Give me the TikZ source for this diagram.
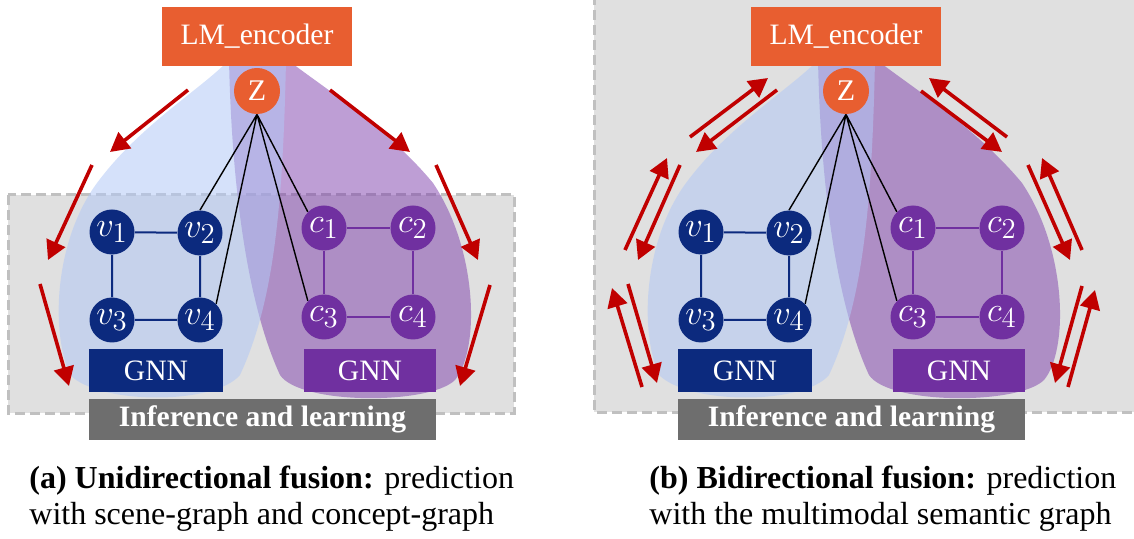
\documentclass[tikz,border=0pt]{standalone}
\usepackage{fontspec}
\setmainfont{Liberation Serif}
\usetikzlibrary{arrows.meta}
\definecolor{lmorange}{RGB}{232,94,48}
\definecolor{vblue}{RGB}{12,42,126}
\definecolor{cpurple}{RGB}{112,48,160}
\definecolor{infogray}{RGB}{110,110,110}
\definecolor{arrred}{RGB}{192,0,0}
\definecolor{panelgray}{RGB}{224,224,224}
\definecolor{dashgray}{RGB}{192,192,192}
\definecolor{blobblue}{RGB}{178,200,245}
\definecolor{blobpurple}{RGB}{125,62,172}
\begin{document}
\begin{tikzpicture}[x=0.5pt,y=-0.5pt,
  gnode/.style={circle, minimum size=22.5pt, inner sep=0pt, text=white,
    font=\fontsize{19}{21}\selectfont},
  vnode/.style={gnode, fill=vblue},
  cnode/.style={gnode, fill=cpurple},
  tbox/.style={rectangle, inner sep=0pt, text=white, font=\fontsize{14.8}{17}\selectfont},
  frame/.style={draw=dashgray, line width=1.5pt, dash pattern=on 5pt off 2.5pt},
  zlink/.style={black, line width=0.7pt},
  vedge/.style={vblue, line width=1pt},
  cedge/.style={cpurple, line width=0.7pt},
  flow/.style={arrred, line width=1.8pt, -{Triangle[length=9.5pt,width=10pt]}},
  caption/.style={anchor=base west, inner sep=0pt, text=black, font=\fontsize{16}{18}\selectfont}
]
\useasboundingbox (0,0) rectangle (1134,539);

% grey panel behind the bidirectional variant
\fill[panelgray] (594,-20) rectangle (1160,412);
\draw[frame] (594,-20) -- (594,412) -- (1160,412);
% grey frame of the unidirectional variant
\filldraw[fill=panelgray, frame] (8,195) rectangle (514,413);

\foreach \p/\dx in {a/0, b/294.5} {
  \begin{scope}[xshift=\dx pt]
    % concept-graph region
    \fill[blobpurple, opacity=0.5]
      (229,60) .. controls (232,200) and (250,310) .. (280,375)
               .. controls (300,405) and (430,405) .. (455,380)
               .. controls (480,350) and (478,250) .. (433,183)
               .. controls (385,125) and (315,82) .. (288,60) -- cycle;
    % scene-graph region, laid over the concept-graph one
    \fill[blobblue, opacity=0.55]
      (286,60) .. controls (283,200) and (275,300) .. (240,375)
               .. controls (215,405) and (100,405) .. (70,375)
               .. controls (50,330) and (55,240) .. (97,183)
               .. controls (140,125) and (200,90) .. (229,60) -- cycle;

    \node[gnode, fill=lmorange, minimum size=23pt, font=\fontsize{15}{17}\selectfont] (\p-z) at (257,91) {Z};

    \node[vnode] (\p-v1) at (112,232) {$v_1$};
    \node[vnode] (\p-v2) at (200,233) {$v_2$};
    \node[vnode] (\p-v3) at (112,320) {$v_3$};
    \node[vnode] (\p-v4) at (200,320) {$v_4$};
    \node[cnode] (\p-c1) at (324,228) {$c_1$};
    \node[cnode] (\p-c2) at (413,228) {$c_2$};
    \node[cnode] (\p-c3) at (324,317) {$c_3$};
    \node[cnode] (\p-c4) at (413,317) {$c_4$};

    \draw[vedge] (\p-v1) -- (\p-v2) (\p-v1) -- (\p-v3)
                 (\p-v2) -- (\p-v4) (\p-v3) -- (\p-v4);
    \draw[cedge] (\p-c1) -- (\p-c2) (\p-c1) -- (\p-c3)
                 (\p-c2) -- (\p-c4) (\p-c3) -- (\p-c4);
    \draw[zlink] (\p-z.south) -- (\p-v2.north)
                 (\p-z.south) -- (\p-v4.north east)
                 (\p-z.south) -- (\p-c1.north west)
                 (\p-z.south) -- (\p-c3.north west);

    \node[tbox, fill=vblue, minimum width=67pt, minimum height=21.5pt] (\p-gv) at (156,370.5) {GNN};
    \node[tbox, fill=cpurple, minimum width=66pt, minimum height=21.5pt] (\p-gc) at (370,370.5) {GNN};
    \node[tbox, fill=infogray, minimum width=173.5pt, minimum height=20.5pt,
          font=\fontsize{14.8}{17}\selectfont\bfseries] (\p-inf) at (262.5,419.5) {Inference and learning};
    \node[tbox, fill=lmorange, minimum width=95pt, minimum height=29.5pt] (\p-lm) at (257,36.5) {LM\_encoder};
  \end{scope}
}

% unidirectional flow: encoder towards the graphs
\coordinate (a1s) at (188,90);  \coordinate (a1e) at (110,152);
\coordinate (a2s) at (92,165);  \coordinate (a2e) at (48,260);
\coordinate (a3s) at (40,284);  \coordinate (a3e) at (69,386);
\coordinate (a4s) at (330,90);  \coordinate (a4e) at (410,152);
\coordinate (a5s) at (436,165); \coordinate (a5e) at (478,260);
\coordinate (a6s) at (490,285); \coordinate (a6e) at (460,386);
\foreach \i in {1,...,6} \draw[flow] (a\i s) -- (a\i e);

% bidirectional flow: pairs of opposite arrows
\coordinate (b1s) at (690,137);  \coordinate (b1e) at (768,78);
\coordinate (b2s) at (777,90);   \coordinate (b2e) at (696,152);
\coordinate (b3s) at (625,250);  \coordinate (b3e) at (667,158);
\coordinate (b4s) at (680,165);  \coordinate (b4e) at (638,260);
\coordinate (b5s) at (642,387);  \coordinate (b5e) at (612,288);
\coordinate (b6s) at (628,284);  \coordinate (b6e) at (657,383);
\coordinate (b7s) at (1007,137); \coordinate (b7e) at (929,78);
\coordinate (b8s) at (921,91);   \coordinate (b8e) at (1002,152);
\coordinate (b9s) at (1082,250); \coordinate (b9e) at (1042,158);
\coordinate (b10s) at (1028,165); \coordinate (b10e) at (1070,260);
\coordinate (b11s) at (1068,387); \coordinate (b11e) at (1095,290);
\coordinate (b12s) at (1082,286); \coordinate (b12e) at (1055,383);
\foreach \i in {1,...,12} \draw[flow] (b\i s) -- (b\i e);

% captions
\node[caption] (capa1) at (29,488) {\textbf{(a) Unidirectional fusion:} prediction};
\node[caption] (capa2) at (29,524) {with scene-graph and concept-graph};
\node[caption] (capb1) at (649,488) {\textbf{(b) Bidirectional fusion:} prediction};
\node[caption] (capb2) at (649,524) {with the multimodal semantic graph};
\end{tikzpicture}
\end{document}
